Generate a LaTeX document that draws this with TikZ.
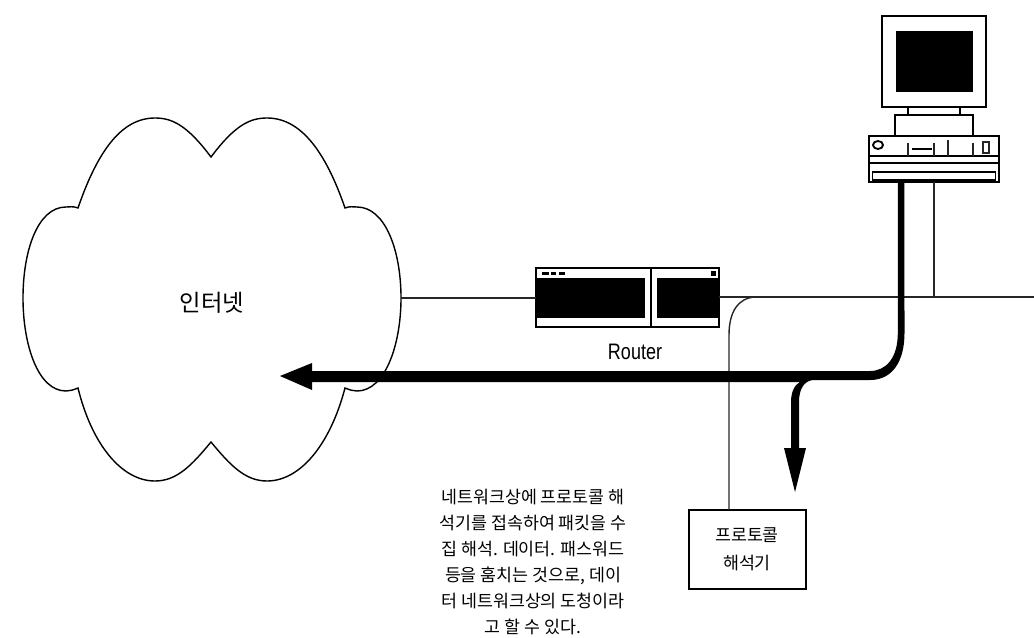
\documentclass[tikz,border=0pt]{standalone}
\usepackage{fontspec}
\setmainfont{Liberation Sans}
\newfontfamily\cjk{Noto Sans CJK KR}
\tikzset{
  thinline/.style={line width=1.05pt,black!85},
  pcline/.style={line width=1.4pt,black},
  devbox/.style={draw,inner sep=0pt,outer sep=0pt,line width=1.4pt},
  solid black/.style={fill=black,draw=none},
  kotext/.style={inner sep=0pt,font=\cjk\fontsize{13}{19.6}\selectfont,align=center},
}
\begin{document}
\begin{tikzpicture}[x=0.75pt,y=-0.75pt]
\useasboundingbox (0,0) rectangle (1034,638);
% cloud
\draw[line width=1.05pt]
 (211,157) .. controls (235,125) and (250,118) .. (267,118)
 .. controls (300,118) and (325,150) .. (345,208)
 .. controls (350,206) and (353,207) .. (357,207)
 .. controls (385,207) and (401,250) .. (401,298)
 .. controls (401,345) and (385,391) .. (357,391)
 .. controls (353,391) and (350,390) .. (345,388)
 .. controls (330,445) and (300,481) .. (267,481)
 .. controls (245,481) and (230,465) .. (211,442)
 .. controls (192,465) and (177,481) .. (155,481)
 .. controls (122,481) and (92,445) .. (78,388)
 .. controls (73,390) and (70,391) .. (66,391)
 .. controls (38,391) and (23,345) .. (23,298)
 .. controls (23,250) and (38,207) .. (66,207)
 .. controls (70,207) and (73,206) .. (78,208)
 .. controls (98,150) and (122,118) .. (155,118)
 .. controls (172,118) and (187,125) .. (211,157) -- cycle;
\node[kotext,font=\cjk\fontsize{17.5}{20}\selectfont] (inet) at (212,303) {인터넷};
\coordinate (cloudE) at (401,298);

% router
\node[devbox,minimum width=137.6pt,minimum height=44.2pt] (router) at (627.5,297.5) {};
\fill[solid black] (537,278) rectangle (645,318);
\fill[solid black] (657,278) rectangle (718,318);
\draw[line width=1.3pt] (651,268) -- (651,327);
\fill[solid black] (542,271.5) rectangle (549,275);
\fill[solid black] (551,271.5) rectangle (556,275);
\fill[solid black] (559,271.5) rectangle (565,275);
\fill[solid black] (711,271) rectangle (716,276);
\node[inner sep=0pt,font=\fontsize{15}{18}\selectfont,xscale=.9,yscale=1.12] (routerlabel) at (635,352) {Router};

% backbone
\coordinate (netE) at (1034,297);
\coordinate (tapS) at (934,297);
\coordinate (branch) at (755,297);
\draw[thinline] (cloudE) -- (router.west |- cloudE);
\draw[thinline] (router.east |- netE) -- (netE);

% analyser
\node[devbox,line width=1.2pt,minimum width=87.5pt,minimum height=59.2pt] (analyser) at (747.5,549.5) {};
\node[kotext] (an1) at (747,535) {프로토콜};
\node[kotext] (an2) at (747,563) {해석기};
\draw[thinline] (branch) .. controls (738,298) and (729,312) .. (729,335) -- (729,510);

% PC
\node[draw,pcline,inner sep=0pt,minimum width=78pt,minimum height=68.25pt] (monitor) at (934,61.5) {};
\fill[solid black] (896,31) rectangle (973,92);
\draw[pcline] (908,107) -- (908,115) (960,107) -- (960,115);
\draw[pcline] (895,136) |- (973,115) -- (973,136);
\node[devbox,minimum width=97.5pt,minimum height=34.5pt] (pc) at (934,159) {};
\draw[pcline] (870,156) -- (998,156) (870,163) -- (998,163);
\draw[line width=1.1pt] (872.5,172) rectangle (995.5,180);
\draw[pcline] (878,145) ellipse [x radius=5,y radius=4];
\draw[thinline] (908,143) -- (908,156) (934,143) -- (934,156) (948,140) -- (948,156) (973,143) -- (973,156);
\fill[solid black] (912,148) rectangle (932,150.5);
\draw[thinline] (983,142) rectangle (989,153);
\coordinate (pcThick) at (901,182);
\coordinate (pcThin) at (934,182);
\draw[thinline] (pcThin) -- (tapS);

% thick signal path
\coordinate (leftTip) at (280,376);
\coordinate (downTip) at (795,492);
\fill[solid black] (pcThick) ++(-3.2,0) -- ++(6.6,0) -- (904.5,333)
  .. controls (904.5,362) and (892,380) .. (870,380)
  -- (813,380) .. controls (804,381) and (799,389) .. (799,402)
  -- (799,448) -- (806,448) -- (downTip) -- (784,448) -- (791,448) -- (791,402)
  .. controls (791,393) and (794,385) .. (800,382) -- (312,382) -- (312,390)
  -- (leftTip) -- (312,363) -- (312,371) -- (870,371)
  .. controls (886,371) and (897.8,358) .. (897.8,333) -- cycle;

% caption
\node[kotext] (caption) at (533,562) {네트워크상에 프로토콜 해\\석기를 접속하여 패킷을 수\\집 해석. 데이터. 패스워드\\등을 훔치는 것으로, 데이\\터 네트워크상의 도청이라\\고 할 수 있다.};
\end{tikzpicture}
\end{document}
